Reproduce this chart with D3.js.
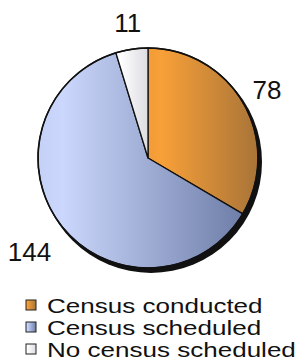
<!DOCTYPE html>
<html>
<head>
<meta charset="utf-8">
<script src="https://cdn.jsdelivr.net/npm/d3@7"></script>
<style>
  body { margin: 0; background: #fff; }
  text { font-family: Arial, "Liberation Sans", sans-serif; fill: #111; }
</style>
</head>
<body>
<div id="chart"></div>
<script>
var svgWidth = 296;
var svgHeight = 364;

// chart data
var categories = ["Census conducted", "Census scheduled", "No census scheduled"];
var values = [78, 144, 11];
var lightColors = ["#f8a038", "#cbd7fc", "#ffffff"];
var darkColors = ["#a87438", "#6e7ea8", "#dcdce2"];

var cx = 148, cy = 158, radius = 110;

var svg = d3.select("#chart")
    .append("svg")
    .attr("width", svgWidth)
    .attr("height", svgHeight);

var defs = svg.append("defs");

// horizontal gradient per slice (light on the left, dark on the right)
categories.forEach(function(c, i) {
    var g = defs.append("linearGradient")
        .attr("id", "grad" + i)
        .attr("x1", "0%").attr("x2", "100%")
        .attr("y1", "0%").attr("y2", "0%");
    g.append("stop").attr("offset", "0%").attr("stop-color", d3.interpolateRgb(lightColors[i], darkColors[i])(0.08));
    g.append("stop").attr("offset", "12%").attr("stop-color", lightColors[i]);
    g.append("stop").attr("offset", "100%").attr("stop-color", darkColors[i]);
});

var pieGroup = svg.append("g")
    .attr("transform", `translate(${cx}, ${cy})`);

// shadow
pieGroup.append("circle")
    .attr("cx", 3)
    .attr("cy", 4)
    .attr("r", radius + 1)
    .attr("fill", "#111");

var pie = d3.pie().sort(null).value(d => d);
var arc = d3.arc().innerRadius(0).outerRadius(radius);

var slices = pie(values);

pieGroup.selectAll("path.slice")
    .data(slices)
    .enter()
    .append("path")
    .attr("class", "slice")
    .attr("d", arc)
    .attr("fill", (d, i) => `url(#grad${i})`)
    .attr("stroke", "#111")
    .attr("stroke-width", 1.3)
    .attr("stroke-linejoin", "round");

// outer rim
pieGroup.append("circle")
    .attr("r", radius)
    .attr("fill", "none")
    .attr("stroke", "#111")
    .attr("stroke-width", 1.6);

// value labels, wider labels sit a bit further out
function labelPos(d) {
    var digits = String(d.value).length;
    var lr = radius + 27 + (digits - 2) * 14;
    return d3.arc().innerRadius(lr).outerRadius(lr).centroid(d);
}

pieGroup.selectAll("text.value")
    .data(slices)
    .enter()
    .append("text")
    .attr("class", "value")
    .attr("transform", d => `translate(${labelPos(d)})`)
    .attr("text-anchor", "middle")
    .attr("dy", "0.36em")
    .style("font-size", "26px")
    .text(d => d.value);

// legend
var legend = svg.append("g")
    .attr("transform", "translate(26, 300)");

var rows = legend.selectAll("g")
    .data(categories)
    .enter()
    .append("g")
    .attr("transform", (d, i) => `translate(0, ${i * 22})`);

rows.append("rect")
    .attr("width", 10)
    .attr("height", 10)
    .attr("fill", (d, i) => `url(#grad${i})`)
    .attr("stroke", "#222")
    .attr("stroke-width", 1);

rows.append("text")
    .attr("transform", "translate(21, 12.5) scale(1.24, 1)")
    .style("font-size", "21px")
    .text(d => d);
</script>
</body>
</html>
